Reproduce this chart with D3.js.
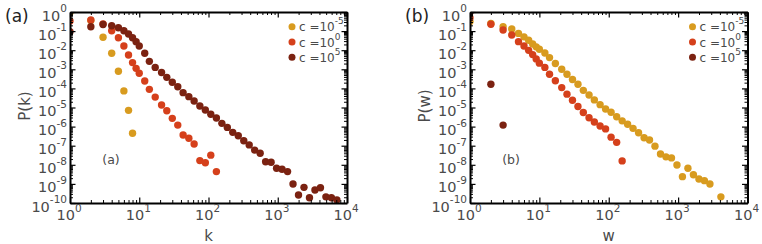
<!DOCTYPE html>
<html><head><meta charset="utf-8">
<script src="https://cdn.jsdelivr.net/npm/d3@7"></script>
<style>body{margin:0;background:#fff}svg{display:block}</style>
</head><body><svg id="c" width="762" height="244"></svg>
<script>
// ---------- data ----------
const seriesNames = ["-5", "0", "5"]; // exponents of c
const xTickExps = [0, 1, 2, 3, 4];
const yTickExps = [0, -1, -2, -3, -4, -5, -6, -7, -8, -9, -10];

// panel (a): degree distribution P(k)
const kGold = [1, 2, 3, 4, 5, 6, 7, 8];
const pkGold = [0.95, 0.355, 4.8e-2, 6.9e-3, 7.9e-4, 7.4e-5, 7.1e-6, 4.5e-7];
const kRed = [1, 2, 3, 4, 5, 6, 7, 8, 9, 10, 12, 14, 17, 21, 25, 30, 36, 43, 52, 62, 75, 90, 108, 130];
const pkRed = [0.339, 0.38, 0.24, 0.105, 4.47e-2, 1.66e-2, 5.6e-3, 2.24e-3, 1.12e-3, 6.2e-4, 2.45e-4, 8.9e-5,
  3.5e-5, 1.35e-5, 6.8e-6, 2.7e-6, 1.2e-6, 3.6e-7, 2.45e-7, 1.23e-7, 1.66e-8, 1.29e-8, 3.2e-8, 4.4e-9];
const kDark = [1, 2, 3, 4, 5, 6, 7, 8, 9, 10, 12, 14, 17, 21, 25, 30, 36, 43, 52, 62, 75, 90, 108, 130, 156, 187,
  224, 269, 323, 387, 464, 557, 668, 802, 962, 1154, 1385, 1662, 1994, 2393, 2872, 3446, 4135, 4962, 5954, 7145];
const pkDark = [9.3e-2, 0.17, 0.22, 0.19, 0.15, 0.105, 7.1e-2, 4.5e-2, 2.8e-2, 1.66e-2, 6.9e-3, 2.6e-3, 1.26e-3,
  6.8e-4, 3.8e-4, 2.1e-4, 1.23e-4, 6.0e-5, 3.7e-5, 2.2e-5, 1.2e-5, 7.4e-6, 4.4e-6, 2.8e-6, 1.48e-6, 9.1e-7,
  5.0e-7, 3.3e-7, 1.82e-7, 1.1e-7, 5.9e-8, 4.0e-8, 1.45e-8, 1.35e-8, 6.6e-9, 5.8e-9, 4.4e-9, 9.8e-10, 2.6e-10,
  6.6e-10, 1.9e-10, 4.8e-10, 6.3e-10, 2.1e-10, 1.9e-10, 1.45e-10];

// panel (b): weight distribution P(w)
const wGold = [1, 2, 3, 4, 5, 6, 7, 8, 9, 10, 12, 14, 17, 21, 25, 30, 36, 43, 52, 62, 75, 90, 108, 130, 156, 187,
  224, 269, 323, 387, 464, 557, 668, 802, 962, 1154, 1385, 1662, 1994, 2393, 2872, 4135];
const pwGold = [0.32, 0.25, 0.17, 0.129, 7.6e-2, 5.0e-2, 3.3e-2, 2.1e-2, 1.5e-2, 1.12e-2, 7.1e-3, 4.1e-3, 2.0e-3,
  1.0e-3, 5.5e-4, 2.9e-4, 1.66e-4, 7.9e-5, 4.5e-5, 2.5e-5, 1.41e-5, 8.3e-6, 5.6e-6, 3.3e-6, 2.0e-6, 1.32e-6,
  8.1e-7, 4.8e-7, 2.6e-7, 2.0e-7, 9.5e-8, 3.7e-8, 2.6e-8, 2.3e-8, 9.8e-9, 2.4e-9, 6.6e-9, 3.0e-9, 1.8e-9,
  1.48e-9, 9.8e-10, 2.1e-10];
const wRed = [1, 2, 3, 4, 5, 6, 7, 8, 9, 10, 12, 14, 17, 21, 25, 30, 36, 43, 52, 62, 75, 90, 108, 130, 156];
const pwRed = [0.5, 0.23, 0.115, 6.3e-2, 2.8e-2, 1.66e-2, 9.8e-3, 5.9e-3, 3.5e-3, 2.1e-3, 1.26e-3, 5.5e-4, 2.5e-4,
  1.1e-4, 5.0e-5, 2.4e-5, 1.12e-5, 5.5e-6, 2.9e-6, 1.74e-6, 1.07e-6, 7.6e-7, 2.8e-7, 1.5e-7, 1.6e-8];
const wDark = [1, 2, 3];
const pwDark = [0.98, 1.66e-4, 1.2e-6];

// ---------- style ----------
const colors = ["#d89b1f", "#d5401b", "#7b2211"];
const textColor = "#4a4a4a";
const FONT = "DejaVu Sans, sans-serif";

const svg = d3.select("#c");

function supLabel(sel, base, exp, baseSize, expSize, expDy) {
  sel.append("tspan").text(base).attr("font-size", baseSize);
  sel.append("tspan").text(exp).attr("font-size", expSize).attr("dy", expDy);
}

function panel(cfg) {
  const x = d3.scaleLog().domain([1, 1e4]).range([cfg.x0, cfg.x1]);
  const y = d3.scaleLog().domain([1e-10, 1]).range([203, 12]);
  const g = svg.append("g");
  const clipId = "clip" + cfg.id;
  g.append("clipPath").attr("id", clipId).append("rect")
    .attr("x", cfg.x0).attr("y", 12).attr("width", cfg.x1 - cfg.x0).attr("height", 191);

  const xMaj = xTickExps.map(e => Math.pow(10, e));
  const yMaj = yTickExps.map(e => Math.pow(10, e));
  const xMin = [], yMin = [];
  for (let e = 0; e < 4; e++) for (let m = 2; m < 10; m++) xMin.push(m * Math.pow(10, e));
  for (let e = -10; e < 0; e++) for (let m = 2; m < 10; m++) yMin.push(m * Math.pow(10, e));

  // points
  const pg = g.append("g").attr("clip-path", `url(#${clipId})`);
  cfg.series.forEach((s, i) => {
    pg.append("g").selectAll("circle").data(s.xs.map((v, j) => [v, s.ys[j]])).join("circle")
      .attr("cx", d => x(d[0])).attr("cy", d => y(d[1])).attr("r", 3.7)
      .attr("fill", colors[s.c]);
  });

  // axes
  const axes = [
    [d3.axisBottom(x), `translate(0,203)`, xMaj, xMin],
    [d3.axisTop(x), `translate(0,12)`, xMaj, xMin],
    [d3.axisLeft(y), `translate(${cfg.x0},0)`, yMaj, yMin],
    [d3.axisRight(y), `translate(${cfg.x1},0)`, yMaj, yMin]
  ];
  axes.forEach(([ax, tr, maj, min]) => {
    const a1 = g.append("g").attr("transform", tr)
      .call(ax.tickValues(min).tickSize(-3).tickSizeOuter(0).tickFormat(""));
    a1.select(".domain").remove();
    a1.selectAll("line").attr("stroke", "#000").attr("stroke-width", 1);
    const a2 = g.append("g").attr("transform", tr)
      .call(ax.tickValues(maj).tickSize(-5.5).tickSizeOuter(0).tickFormat(""));
    a2.select(".domain").attr("stroke", "#000").attr("stroke-width", 2);
    a2.selectAll("line").attr("stroke", "#000").attr("stroke-width", 1.2);
  });

  // tick labels
  xTickExps.forEach(e => {
    const t = g.append("text").attr("x", x(Math.pow(10, e)) - 1).attr("y", 220)
      .attr("text-anchor", "middle").attr("fill", textColor).attr("font-family", FONT);
    supLabel(t, "10", String(e), 14.5, 10.5, -8.5);
  });
  yTickExps.forEach(e => {
    const t = g.append("text").attr("x", cfg.x0 - 3).attr("y", y(Math.pow(10, e)) + 8.5)
      .attr("text-anchor", "end").attr("fill", textColor).attr("font-family", FONT);
    supLabel(t, "10", String(e), 14.5, 10.5, -8.5);
  });

  // axis titles
  g.append("text").attr("x", (cfg.x0 + cfg.x1) / 2).attr("y", 240.5).attr("text-anchor", "middle")
    .attr("font-family", FONT).attr("font-size", 15).attr("fill", textColor).text(cfg.xLabel);
  g.append("text").attr("transform", `translate(${cfg.x0 - 40},106) rotate(-90)`).attr("text-anchor", "middle")
    .attr("font-family", FONT).attr("font-size", 15).attr("fill", textColor).text(cfg.yLabel);

  // panel letters
  g.append("text").attr("x", cfg.x0 - 65).attr("y", 21.5).attr("font-family", FONT).attr("font-size", 17)
    .attr("fill", "#222").text(cfg.tag);
  g.append("text").attr("x", cfg.x0 + 41).attr("y", 163.5).attr("text-anchor", "middle").attr("font-family", FONT)
    .attr("font-size", 12.5).attr("fill", textColor).text(cfg.tag);

  // legend
  seriesNames.forEach((n, i) => {
    const ly = 26.7 + i * 15.3;
    g.append("circle").attr("cx", cfg.x1 - 55).attr("cy", ly).attr("r", 3.5).attr("fill", colors[i]);
    const t = g.append("text").attr("x", cfg.x1 - 48).attr("y", ly + 4.5)
      .attr("fill", textColor).attr("font-family", FONT);
    supLabel(t, "c =10", n, 12, 9, -7);
  });
}

panel({id: "a", x0: 70, x1: 347, xLabel: "k", yLabel: "P(k)", tag: "(a)",
  series: [{xs: kGold, ys: pkGold, c: 0}, {xs: kRed, ys: pkRed, c: 1}, {xs: kDark, ys: pkDark, c: 2}]});
panel({id: "b", x0: 470, x1: 747.5, xLabel: "w", yLabel: "P(w)", tag: "(b)",
  series: [{xs: wGold, ys: pwGold, c: 0}, {xs: wRed, ys: pwRed, c: 1}, {xs: wDark, ys: pwDark, c: 2}]});
</script></body></html>
